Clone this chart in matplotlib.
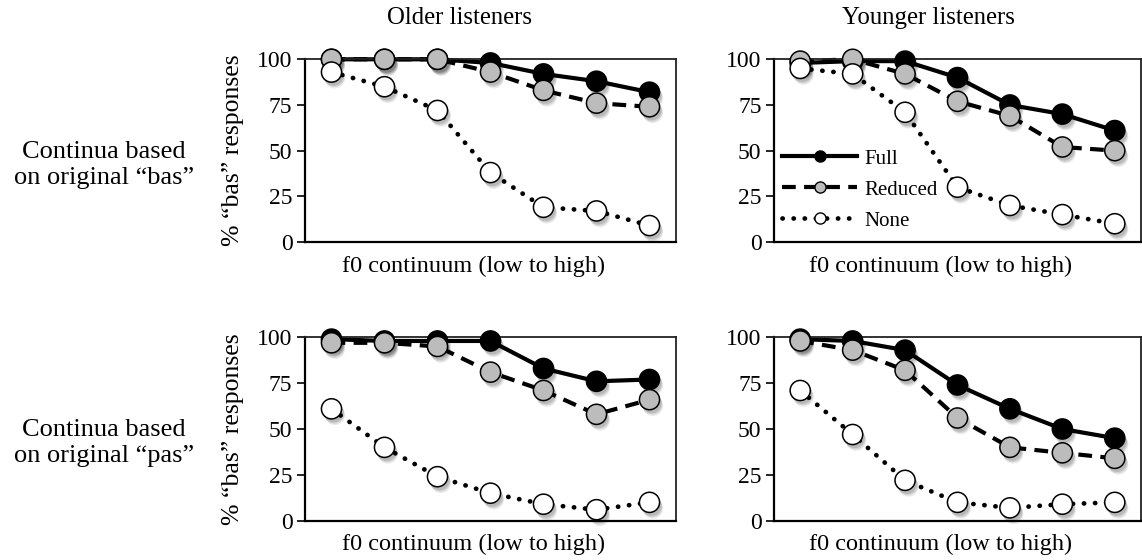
import matplotlib
matplotlib.use("Agg")
import matplotlib.pyplot as plt
import matplotlib.patheffects as pe
import numpy as np

plt.rcParams['font.family'] = ['Liberation Serif', 'DejaVu Serif']

# Continuum steps (7 f0 steps, low to high)
steps = np.arange(7)

# Percentage of "bas" responses per condition
older_bas_full    = [100, 100, 100, 98, 92, 88, 82]
older_bas_reduced = [100, 100, 100, 93, 83, 76, 74]
older_bas_none    = [93, 85, 72, 38, 19, 17, 9]

younger_bas_full    = [98, 99, 99, 90, 75, 70, 61]
younger_bas_reduced = [99, 100, 92, 77, 69, 52, 50]
younger_bas_none    = [95, 92, 71, 30, 20, 15, 10]

older_pas_full    = [99, 98, 98, 98, 83, 76, 77]
older_pas_reduced = [97, 97, 95, 81, 71, 58, 66]
older_pas_none    = [61, 40, 24, 15, 9, 6, 10]

younger_pas_full    = [99, 98, 93, 74, 61, 50, 45]
younger_pas_reduced = [98, 93, 82, 56, 40, 37, 34]
younger_pas_none    = [71, 47, 22, 10, 7, 9, 10]

condition_names = ["Full", "Reduced", "None"]
group_titles = ["Older listeners", "Younger listeners"]
row_labels = ["Continua based\non original \u201cbas\u201d",
              "Continua based\non original \u201cpas\u201d"]
y_ticks = [0, 25, 50, 75, 100]
x_label = "f0 continuum (low to high)"
y_label = "% \u201cbas\u201d responses"

panels = [
    [(older_bas_full, older_bas_reduced, older_bas_none),
     (younger_bas_full, younger_bas_reduced, younger_bas_none)],
    [(older_pas_full, older_pas_reduced, older_pas_none),
     (younger_pas_full, younger_pas_reduced, younger_pas_none)],
]

styles = [
    dict(ls='-', mfc='black', lw=3.0, cap='butt'),
    dict(ls=(0, (3.3, 2.0)), mfc='#bcbcbc', lw=3.0, cap='butt'),
    dict(ls=(0, (0.05, 2.3)), mfc='white', lw=3.4, cap='round'),
]

W, H = 1142, 560
fig = plt.figure(figsize=(W / 100, H / 100), dpi=100)

col_x = [(305, 676), (774, 1141)]
row_y = [(59.3, 242), (337.3, 520.7)]

shadow = [
    pe.SimplePatchShadow(offset=(2.5, -4.5), shadow_rgbFace='black', alpha=0.08),
    pe.SimplePatchShadow(offset=(2.0, -3.5), shadow_rgbFace='black', alpha=0.10),
    pe.SimplePatchShadow(offset=(1.5, -2.5), shadow_rgbFace='black', alpha=0.12),
    pe.Normal(),
]

TICK_FS = 17
LABEL_FS = 17.5
TITLE_FS = 17.8
ROW_FS = 19
for r in range(2):
    for c in range(2):
        x0, x1 = col_x[c]
        yt, yb = row_y[r]
        ax = fig.add_axes([x0 / W, 1 - yb / H, (x1 - x0) / W, (yb - yt) / H])
        handles = []
        for vals, st, name in zip(panels[r][c], styles, condition_names):
            ax.plot(steps, vals, color='black', lw=st['lw'], ls=st['ls'],
                    dash_capstyle=st['cap'], solid_capstyle='butt',
                    clip_on=False, zorder=2)
            ax.plot(steps, vals, ls='none', marker='o', ms=14.5,
                    mfc=st['mfc'], mec='black', mew=1.1, clip_on=False,
                    zorder=3, path_effects=shadow)
            h, = ax.plot([], [], color='black', lw=st['lw'], ls=st['ls'],
                         dash_capstyle=st['cap'],
                         marker='o', ms=8, mfc=st['mfc'], mec='black',
                         mew=1.0, label=name)
            handles.append(h)
        ax.set_xlim(-0.5, 6.5)
        ax.set_ylim(0, 100)
        ax.set_yticks(y_ticks)
        ax.set_xticks([])
        ax.tick_params(axis='y', direction='out', length=6, width=1.2,
                       labelsize=TICK_FS, pad=3)
        for side in ['left', 'bottom']:
            ax.spines[side].set_linewidth(1.6)
            ax.spines[side].set_color('black')
        for side in ['top', 'right']:
            ax.spines[side].set_linewidth(1.3)
            ax.spines[side].set_color('#222222')
        if c == 0:
            ax.set_ylabel(y_label, fontsize=18.5)
            ax.yaxis.set_label_coords((244 - x0) / (x1 - x0), 0.5)
        # x-axis label
        xc = (x0 + x1) / 2 - 17
        fig.text(xc / W, 1 - (yb + 24) / H, x_label, ha='center', va='center',
                 fontsize=LABEL_FS)
        if r == 0 and c == 1:
            ax.legend(handles=handles, loc='center left',
                      bbox_to_anchor=(0.022, 0.285), frameon=False,
                      fontsize=15, handlelength=3.6, handletextpad=0.35,
                      labelspacing=0.55, borderpad=0, borderaxespad=0,
                      numpoints=1)

# column titles
fig.text(459.5 / W, 1 - 18 / H, group_titles[0], ha='center', va='center',
         fontsize=TITLE_FS)
fig.text(928 / W, 1 - 18 / H, group_titles[1], ha='center', va='center',
         fontsize=TITLE_FS)

# row labels
fig.text(104 / W, 1 - 165 / H, row_labels[0], ha='center', va='center',
         fontsize=ROW_FS, linespacing=1.2)
fig.text(104 / W, 1 - 443 / H, row_labels[1], ha='center', va='center',
         fontsize=ROW_FS, linespacing=1.2)

fig.savefig("out.png", dpi=100)
